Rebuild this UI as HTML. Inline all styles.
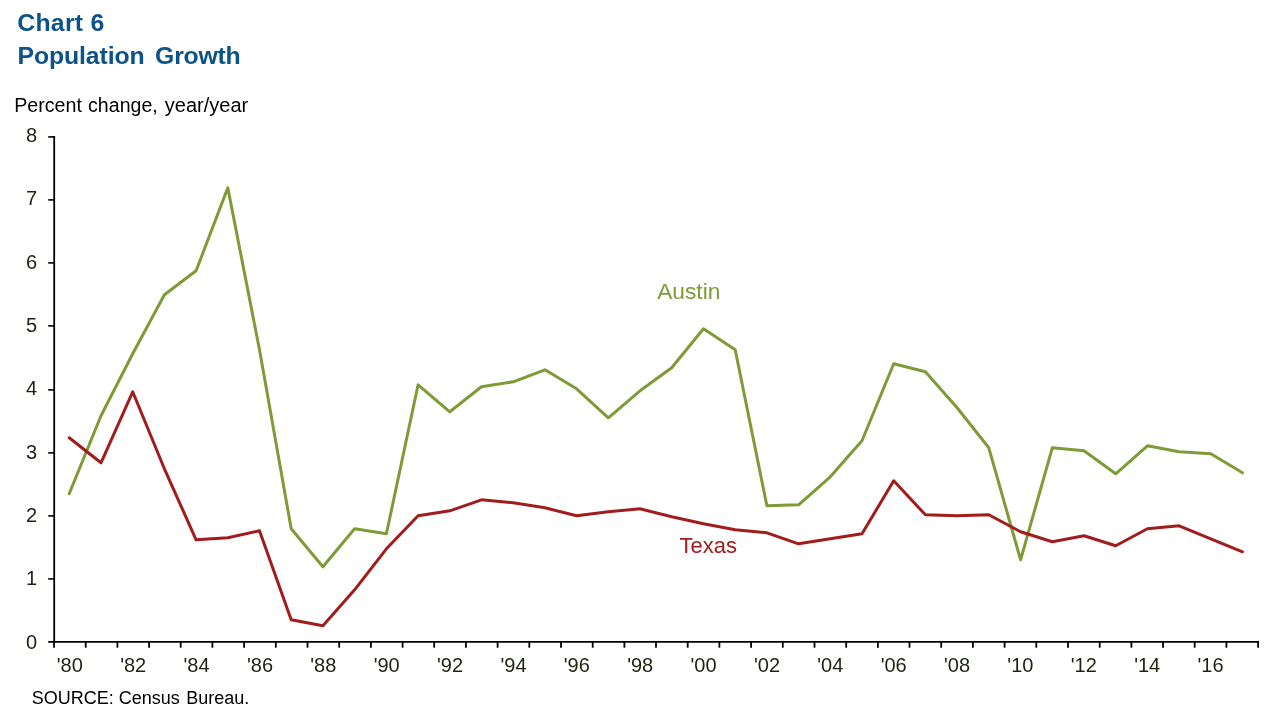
<!DOCTYPE html>
<html lang="en">
<head>
<meta charset="utf-8">
<title>Chart 6 Population Growth</title>
<style>
html,body{margin:0;padding:0;background:#fff;}
body{width:1279px;height:728px;overflow:hidden;}
svg{display:block;}
text{font-family:"Liberation Sans",Arial,sans-serif;}
.t{font-weight:bold;font-size:24.8px;fill:#0b5388;}
.s{font-size:20px;fill:#000;}
.l{font-size:20px;fill:#1c2410;}
.src{font-size:18px;fill:#000;}
</style>
</head>
<body>
<svg width="1279" height="728" viewBox="0 0 1279 728">
<rect x="0" y="0" width="1279" height="728" fill="#ffffff"/>

<text class="t" x="17.3" y="30.6" textLength="86.9" lengthAdjust="spacing">Chart 6</text>
<text class="t" x="17.5" y="64.0" textLength="127.1" lengthAdjust="spacing">Population</text>
<text class="t" x="155.1" y="64.0" textLength="85.6" lengthAdjust="spacing">Growth</text>
<text class="s" x="14.2" y="111.6" textLength="67.7" lengthAdjust="spacingAndGlyphs">Percent</text>
<text class="s" x="88.1" y="111.6" textLength="69.6" lengthAdjust="spacingAndGlyphs">change,</text>
<text class="s" x="164.8" y="111.6">year/year</text>
<g stroke="#000000" stroke-width="1.8" fill="none">
<line x1="54.2" y1="136.1" x2="54.2" y2="642.8"/>
<line x1="48.2" y1="641.9" x2="1259.0" y2="641.9"/>
<line x1="48.2" y1="578.9" x2="54.0" y2="578.9" stroke-width="1.6"/>
<line x1="48.2" y1="515.9" x2="54.0" y2="515.9" stroke-width="1.6"/>
<line x1="48.2" y1="452.9" x2="54.0" y2="452.9" stroke-width="1.6"/>
<line x1="48.2" y1="389.9" x2="54.0" y2="389.9" stroke-width="1.6"/>
<line x1="48.2" y1="325.9" x2="54.0" y2="325.9" stroke-width="1.6"/>
<line x1="48.2" y1="262.9" x2="54.0" y2="262.9" stroke-width="1.6"/>
<line x1="48.2" y1="199.9" x2="54.0" y2="199.9" stroke-width="1.6"/>
<line x1="48.2" y1="136.9" x2="54.0" y2="136.9" stroke-width="1.6"/>
<line x1="54.0" y1="641.9" x2="54.0" y2="647.7"/>
<line x1="85.7" y1="641.9" x2="85.7" y2="647.7"/>
<line x1="117.4" y1="641.9" x2="117.4" y2="647.7"/>
<line x1="149.1" y1="641.9" x2="149.1" y2="647.7"/>
<line x1="180.7" y1="641.9" x2="180.7" y2="647.7"/>
<line x1="212.4" y1="641.9" x2="212.4" y2="647.7"/>
<line x1="244.1" y1="641.9" x2="244.1" y2="647.7"/>
<line x1="275.8" y1="641.9" x2="275.8" y2="647.7"/>
<line x1="307.5" y1="641.9" x2="307.5" y2="647.7"/>
<line x1="339.2" y1="641.9" x2="339.2" y2="647.7"/>
<line x1="370.9" y1="641.9" x2="370.9" y2="647.7"/>
<line x1="402.6" y1="641.9" x2="402.6" y2="647.7"/>
<line x1="434.2" y1="641.9" x2="434.2" y2="647.7"/>
<line x1="465.9" y1="641.9" x2="465.9" y2="647.7"/>
<line x1="497.6" y1="641.9" x2="497.6" y2="647.7"/>
<line x1="529.3" y1="641.9" x2="529.3" y2="647.7"/>
<line x1="561.0" y1="641.9" x2="561.0" y2="647.7"/>
<line x1="592.7" y1="641.9" x2="592.7" y2="647.7"/>
<line x1="624.4" y1="641.9" x2="624.4" y2="647.7"/>
<line x1="656.0" y1="641.9" x2="656.0" y2="647.7"/>
<line x1="687.7" y1="641.9" x2="687.7" y2="647.7"/>
<line x1="719.4" y1="641.9" x2="719.4" y2="647.7"/>
<line x1="751.1" y1="641.9" x2="751.1" y2="647.7"/>
<line x1="782.8" y1="641.9" x2="782.8" y2="647.7"/>
<line x1="814.5" y1="641.9" x2="814.5" y2="647.7"/>
<line x1="846.2" y1="641.9" x2="846.2" y2="647.7"/>
<line x1="877.9" y1="641.9" x2="877.9" y2="647.7"/>
<line x1="909.5" y1="641.9" x2="909.5" y2="647.7"/>
<line x1="941.2" y1="641.9" x2="941.2" y2="647.7"/>
<line x1="972.9" y1="641.9" x2="972.9" y2="647.7"/>
<line x1="1004.6" y1="641.9" x2="1004.6" y2="647.7"/>
<line x1="1036.3" y1="641.9" x2="1036.3" y2="647.7"/>
<line x1="1068.0" y1="641.9" x2="1068.0" y2="647.7"/>
<line x1="1099.7" y1="641.9" x2="1099.7" y2="647.7"/>
<line x1="1131.4" y1="641.9" x2="1131.4" y2="647.7"/>
<line x1="1163.0" y1="641.9" x2="1163.0" y2="647.7"/>
<line x1="1194.7" y1="641.9" x2="1194.7" y2="647.7"/>
<line x1="1226.4" y1="641.9" x2="1226.4" y2="647.7"/>
<line x1="1258.1" y1="641.9" x2="1258.1" y2="647.7"/>
</g>
<text class="l" x="37.2" y="648.6" text-anchor="end">0</text>
<text class="l" x="37.2" y="585.2" text-anchor="end">1</text>
<text class="l" x="37.2" y="521.9" text-anchor="end">2</text>
<text class="l" x="37.2" y="458.5" text-anchor="end">3</text>
<text class="l" x="37.2" y="395.2" text-anchor="end">4</text>
<text class="l" x="37.2" y="331.8" text-anchor="end">5</text>
<text class="l" x="37.2" y="268.5" text-anchor="end">6</text>
<text class="l" x="37.2" y="205.1" text-anchor="end">7</text>
<text class="l" x="37.2" y="141.8" text-anchor="end">8</text>
<text class="l" x="69.8" y="671.7" text-anchor="middle">'80</text>
<text class="l" x="133.2" y="671.7" text-anchor="middle">'82</text>
<text class="l" x="196.6" y="671.7" text-anchor="middle">'84</text>
<text class="l" x="260.0" y="671.7" text-anchor="middle">'86</text>
<text class="l" x="323.3" y="671.7" text-anchor="middle">'88</text>
<text class="l" x="386.7" y="671.7" text-anchor="middle">'90</text>
<text class="l" x="450.1" y="671.7" text-anchor="middle">'92</text>
<text class="l" x="513.5" y="671.7" text-anchor="middle">'94</text>
<text class="l" x="576.8" y="671.7" text-anchor="middle">'96</text>
<text class="l" x="640.2" y="671.7" text-anchor="middle">'98</text>
<text class="l" x="703.6" y="671.7" text-anchor="middle">'00</text>
<text class="l" x="767.0" y="671.7" text-anchor="middle">'02</text>
<text class="l" x="830.3" y="671.7" text-anchor="middle">'04</text>
<text class="l" x="893.7" y="671.7" text-anchor="middle">'06</text>
<text class="l" x="957.1" y="671.7" text-anchor="middle">'08</text>
<text class="l" x="1020.4" y="671.7" text-anchor="middle">'10</text>
<text class="l" x="1083.8" y="671.7" text-anchor="middle">'12</text>
<text class="l" x="1147.2" y="671.7" text-anchor="middle">'14</text>
<text class="l" x="1210.6" y="671.7" text-anchor="middle">'16</text>
<polyline points="69.2,493.8 101.0,415.8 132.7,353.8 164.4,294.8 196.1,270.8 227.8,187.8 259.5,349.8 291.2,528.8 322.9,566.8 354.6,528.8 386.4,533.8 418.1,384.8 449.8,411.8 481.5,386.8 513.2,381.8 544.9,369.8 576.6,388.8 608.3,417.8 640.0,390.8 671.7,367.8 703.5,328.8 735.2,349.8 766.9,505.8 798.6,504.8 830.3,476.8 862.0,440.8 893.7,363.8 925.4,371.8 957.1,407.8 988.8,447.8 1020.6,559.8 1052.3,447.8 1084.0,450.8 1115.7,473.8 1147.4,445.8 1179.1,451.8 1210.8,453.8 1242.5,472.8" fill="none" stroke="#7f9a36" stroke-width="3" stroke-linejoin="round" stroke-linecap="round"/>
<polyline points="69.2,437.8 101.0,462.8 132.7,391.8 164.4,468.8 196.1,539.8 227.8,537.8 259.5,530.8 291.2,619.8 322.9,625.8 354.6,589.8 386.4,548.8 418.1,515.8 449.8,510.8 481.5,499.8 513.2,502.8 544.9,507.8 576.6,515.8 608.3,511.8 640.0,508.8 671.7,516.8 703.5,523.8 735.2,529.8 766.9,532.8 798.6,543.8 830.3,538.8 862.0,533.8 893.7,480.8 925.4,514.8 957.1,515.8 988.8,514.8 1020.6,531.8 1052.3,541.8 1084.0,535.8 1115.7,545.8 1147.4,528.8 1179.1,525.8 1210.8,538.8 1242.5,551.8" fill="none" stroke="#a11c1c" stroke-width="3" stroke-linejoin="round" stroke-linecap="round"/>
<text x="657.2" y="298.5" font-size="22.5" fill="#7f9a36" textLength="63.2" lengthAdjust="spacingAndGlyphs">Austin</text>
<text x="679.6" y="552.8" font-size="22.5" fill="#a11c1c" textLength="57.4" lengthAdjust="spacingAndGlyphs">Texas</text>
<text class="src" x="31.8" y="703.8">SOURCE:</text>
<text class="src" x="118.8" y="703.8">Census</text>
<text class="src" x="186.2" y="703.8">Bureau.</text>
</svg>
</body>
</html>
